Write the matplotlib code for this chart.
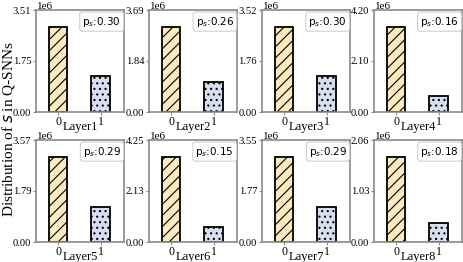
import numpy as np
import matplotlib
matplotlib.use("Agg")
import matplotlib.pyplot as plt

plt.rcParams['font.family'] = ['Liberation Serif', 'DejaVu Serif']
plt.rcParams['mathtext.fontset'] = 'dejavusans'
plt.rcParams['hatch.linewidth'] = 0.8

layers = ["Layer1", "Layer2", "Layer3", "Layer4", "Layer5", "Layer6", "Layer7", "Layer8"]
# counts of s=0 and s=1 per layer (in millions)
count0 = [2.925, 3.075, 2.933, 3.500, 2.975, 3.542, 2.958, 1.717]
count1 = [1.254, 1.080, 1.257, 0.667, 1.215, 0.625, 1.208, 0.377]
p_s = [0.30, 0.26, 0.30, 0.16, 0.29, 0.15, 0.29, 0.18]
ytop = [3.51, 3.69, 3.52, 4.20, 3.572, 4.252, 3.55, 2.06]

colors = ['#FCEBBE', '#D6DEF0']
hatches = ['///', '...']
spine_c = '#8a8a8a'

fig = plt.figure(figsize=(4.63, 2.62), dpi=100)
W, H = 463, 262
lefts = [36, 149, 262, 374]
tops = [10, 140]
aw, ah = 88, 102

for i in range(8):
    r, c = divmod(i, 4)
    ax = fig.add_axes([lefts[c] / W, 1 - (tops[r] + ah) / H, aw / W, ah / H])
    vals = [count0[i], count1[i]]
    for k in range(2):
        ax.bar(k, vals[k], width=0.44, color=colors[k], edgecolor='black',
               hatch=hatches[k], linewidth=1.3, zorder=2)
    ax.set_xlim(-0.52, 1.55)
    ax.set_ylim(0, ytop[i])
    ax.set_xticks([0, 1])
    ax.set_xticklabels(['0', '1'], fontsize=8.5)
    yt = [0, ytop[i] / 2, ytop[i]]
    ax.set_yticks(yt)
    ax.set_yticklabels(['%.2f' % v for v in yt], fontsize=7.6)
    ax.tick_params(axis='both', length=2.5, width=0.8, color=spine_c, pad=1)
    ax.tick_params(axis='x', pad=0.5)
    for s in ax.spines.values():
        s.set_color(spine_c)
        s.set_linewidth(1.2)
    ax.set_xlabel(layers[i], fontsize=9, labelpad=-5.5)
    ax.text(0.01, 0.99, '1e6', transform=ax.transAxes, fontsize=8, va='bottom', ha='left')
    ax.text(0.965, 0.955, 'p$_s$:%.2f' % p_s[i], transform=ax.transAxes, fontsize=7.5,
            family='DejaVu Sans', ha='right', va='top',
            bbox=dict(boxstyle='round,pad=0.25', fc='white', ec='#d0d0d0', lw=0.8))

fig.text(0.018, 0.505, 'Distribution of $s$ in Q-SNNs', rotation=90, va='center', ha='center', fontsize=11)

fig.savefig('out.png', dpi=100)
